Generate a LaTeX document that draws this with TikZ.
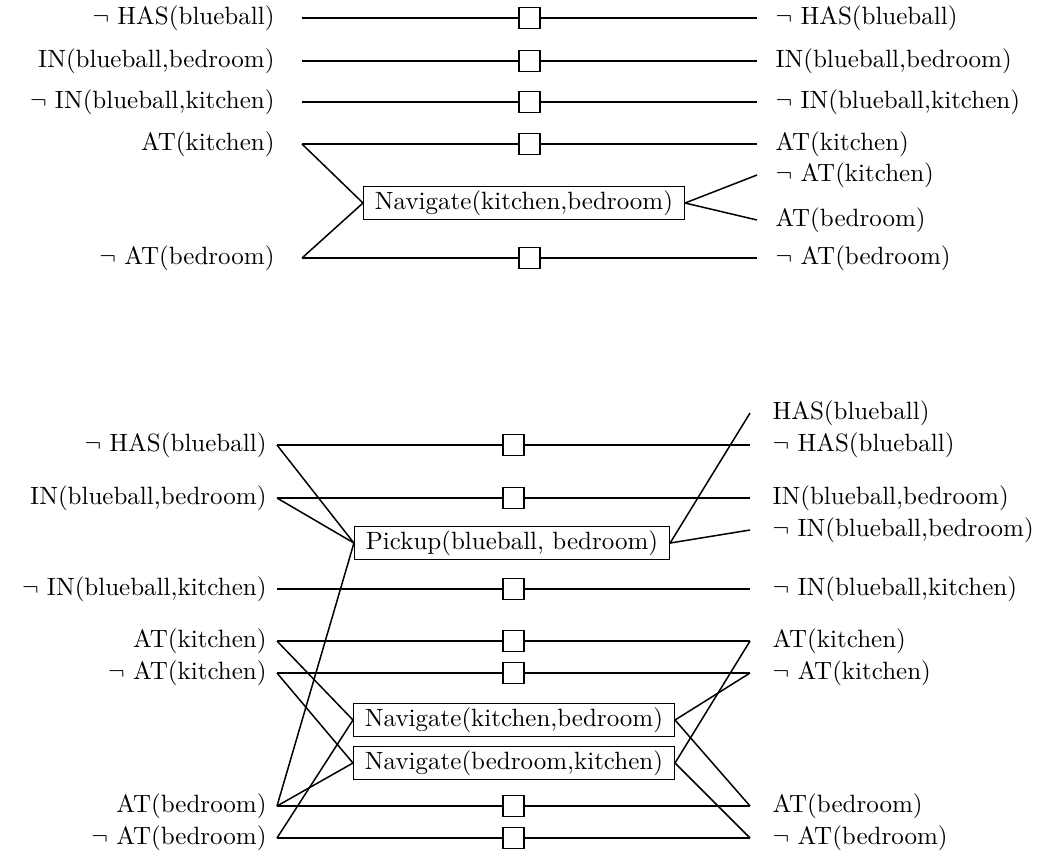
\documentclass[tikz,border=0pt]{standalone}
\usetikzlibrary{positioning}
\tikzset{
    fact/.style={inner sep=0pt},
    action/.style={rectangle, draw, line width=0.6pt, fill=white,
        inner xsep=4.5pt, inner ysep=1.6pt},
    noop/.style={rectangle, draw, line width=0.6pt, fill=white,
        minimum size=8.4pt, inner sep=0pt},
    persist/.style={line width=1pt},
    link/.style={line width=0.6pt}
}
\newcommand{\nt}{$\neg$\ }

\begin{document}
\begin{tikzpicture}[x=0.4pt, y=-0.4pt]
    \useasboundingbox (0,0) rectangle (1038,856);

    % first layer
    \coordinate (a1) at (302,18);   \coordinate (b1) at (757,18);
    \coordinate (a2) at (302,61);   \coordinate (b2) at (757,61);
    \coordinate (a3) at (302,102);  \coordinate (b3) at (757,102);
    \coordinate (a4) at (302,144);  \coordinate (b4) at (757,144);
    \coordinate (a5) at (302,258);  \coordinate (b5) at (757,258);
    \coordinate (e1) at (757,175);  \coordinate (e2) at (757,220);

    \node[fact, left=10.8pt of a1] (hasA) {\nt HAS(blueball)};
    \node[fact, left=10.8pt of a2] (inbedA) {IN(blueball,bedroom)};
    \node[fact, left=10.8pt of a3] (inkitA) {\nt IN(blueball,kitchen)};
    \node[fact, left=10.8pt of a4] (atkitA) {AT(kitchen)};
    \node[fact, left=10.8pt of a5] (atbedA) {\nt AT(bedroom)};

    \node[fact, right=7.2pt of b1] (hasB) {\nt HAS(blueball)};
    \node[fact, right=7.2pt of b2] (inbedB) {IN(blueball,bedroom)};
    \node[fact, right=7.2pt of b3] (inkitB) {\nt IN(blueball,kitchen)};
    \node[fact, right=7.2pt of b4] (atkitB) {AT(kitchen)};
    \node[fact, right=7.2pt of e1] (natkitB) {\nt AT(kitchen)};
    \node[fact, right=7.2pt of e2] (natbedB) {AT(bedroom)};
    \node[fact, right=7.2pt of b5] (atbedB) {\nt AT(bedroom)};

    \draw[persist] (a1) -- node[noop] (p1) {} (b1);
    \draw[persist] (a2) -- node[noop] (p2) {} (b2);
    \draw[persist] (a3) -- node[noop] (p3) {} (b3);
    \draw[persist] (a4) -- node[noop] (p4) {} (b4);
    \draw[persist] (a5) -- node[noop] (p5) {} (b5);

    \node[action] (nav) at (524,203) {Navigate(kitchen,bedroom)};
    \draw[link] (a4) -- (nav.west);
    \draw[link] (a5) -- (nav.west);
    \draw[link] (nav.east) -- (e1);
    \draw[link] (nav.east) -- (e2);

    % second layer
    \coordinate (c1) at (277,445);  \coordinate (d1) at (750,445);
    \coordinate (c2) at (277,498);  \coordinate (d2) at (750,498);
    \coordinate (c3) at (277,589);  \coordinate (d3) at (750,589);
    \coordinate (c4) at (277,641);  \coordinate (d4) at (750,641);
    \coordinate (c5) at (277,673);  \coordinate (d5) at (750,673);
    \coordinate (c6) at (277,806);  \coordinate (d6) at (750,806);
    \coordinate (c7) at (277,838);  \coordinate (d7) at (750,838);
    \coordinate (f1) at (750,413);  \coordinate (f2) at (750,530);

    \node[fact, left=4pt of c1] (hasC) {\nt HAS(blueball)};
    \node[fact, left=4pt of c2] (inbedC) {IN(blueball,bedroom)};
    \node[fact, left=4pt of c3] (inkitC) {\nt IN(blueball,kitchen)};
    \node[fact, left=4pt of c4] (atkitC) {AT(kitchen)};
    \node[fact, left=4pt of c5] (natkitC) {\nt AT(kitchen)};
    \node[fact, left=4pt of c6] (atbedC) {AT(bedroom)};
    \node[fact, left=4pt of c7] (natbedC) {\nt AT(bedroom)};

    \node[fact, right=8.8pt of f1] (yesD) {HAS(blueball)};
    \node[fact, right=8.8pt of d1] (hasD) {\nt HAS(blueball)};
    \node[fact, right=8.8pt of d2] (inbedD) {IN(blueball,bedroom)};
    \node[fact, right=8.8pt of f2] (ninbedD) {\nt IN(blueball,bedroom)};
    \node[fact, right=8.8pt of d3] (inkitD) {\nt IN(blueball,kitchen)};
    \node[fact, right=8.8pt of d4] (atkitD) {AT(kitchen)};
    \node[fact, right=8.8pt of d5] (natkitD) {\nt AT(kitchen)};
    \node[fact, right=8.8pt of d6] (atbedD) {AT(bedroom)};
    \node[fact, right=8.8pt of d7] (natbedD) {\nt AT(bedroom)};

    \draw[persist] (c1) -- node[noop] (q1) {} (d1);
    \draw[persist] (c2) -- node[noop] (q2) {} (d2);
    \draw[persist] (c3) -- node[noop] (q3) {} (d3);
    \draw[persist] (c4) -- node[noop] (q4) {} (d4);
    \draw[persist] (c5) -- node[noop] (q5) {} (d5);
    \draw[persist] (c6) -- node[noop] (q6) {} (d6);
    \draw[persist] (c7) -- node[noop] (q7) {} (d7);

    \node[action] (pick) at (512,543) {Pickup(blueball, bedroom)};
    \node[action] (navkb) at (514,720) {Navigate(kitchen,bedroom)};
    \node[action] (navbk) at (514,763) {Navigate(bedroom,kitchen)};

    \draw[link] (c1) -- (pick.west);
    \draw[link] (c2) -- (pick.west);
    \draw[link] (c6) -- (pick.west);
    \draw[link] (pick.east) -- (f1);
    \draw[link] (pick.east) -- (f2);

    \draw[link] (c4) -- (navkb.west);
    \draw[link] (c7) -- (navkb.west);
    \draw[link] (navkb.east) -- (d5);
    \draw[link] (navkb.east) -- (d6);

    \draw[link] (c5) -- (navbk.west);
    \draw[link] (c6) -- (navbk.west);
    \draw[link] (navbk.east) -- (d4);
    \draw[link] (navbk.east) -- (d7);
\end{tikzpicture}
\end{document}
